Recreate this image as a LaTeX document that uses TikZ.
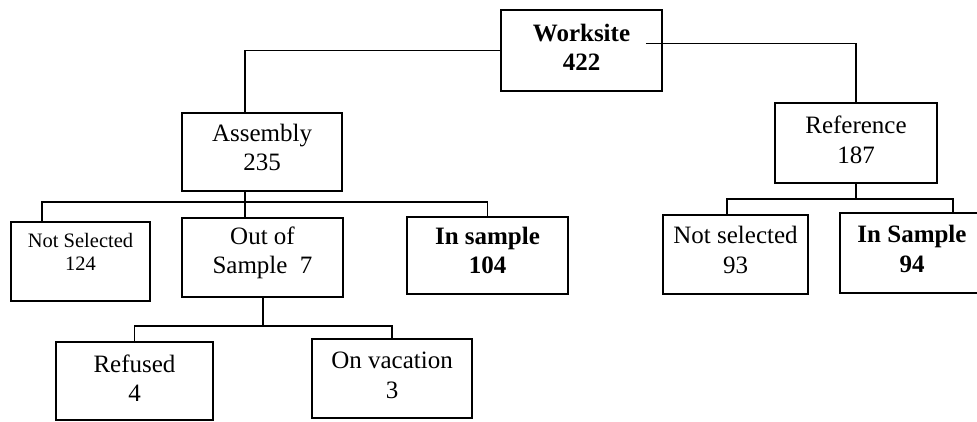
\documentclass[tikz,border=0pt]{standalone}
\usepackage{fontspec}
\setmainfont{Liberation Serif}
\begin{document}
\begin{tikzpicture}[x=1pt,y=-1pt,
  box/.style={draw=black,line width=1.5pt,fill=white,minimum width=#1,inner sep=0pt},
  lbl/.style={align=center,inner sep=0pt,font=\fontsize{25}{29.5}\selectfont},
  small/.style={align=center,inner sep=0pt,font=\fontsize{20.5}{23}\selectfont},
  conn/.style={draw=black,line width=1.5pt}]
\useasboundingbox (0,0) rectangle (977,422);
\clip (0,0) rectangle (977,422);
% connectors first
\coordinate (b1) at (245,202);
\coordinate (b2) at (263,326);
\coordinate (b3) at (856,199);
% boxes
\node[box=161pt,minimum height=81pt] (ws) at (581.5,50.5) {};
\node[box=160pt,minimum height=78pt] (asm) at (262,152) {};
\node[box=162pt,minimum height=80pt] (ref) at (856,143) {};
\node[box=139pt,minimum height=79pt] (ns) at (80.5,261.5) {};
\node[box=161pt,minimum height=79pt] (oos) at (262.5,257.5) {};
\node[box=161pt,minimum height=77pt] (ins) at (487.5,255.5) {};
\node[box=145pt,minimum height=79pt] (ns2) at (735.5,254.5) {};
\node[box=144pt,minimum height=80pt] (ins2) at (912,253) {};
\node[box=157pt,minimum height=78pt] (refu) at (134.5,381) {};
\node[box=160pt,minimum height=79pt] (vac) at (392,378.5) {};
% connectors
\draw[conn] (ws.west) -| ([xshift=-17pt]asm.north);
\draw[conn] ([xshift=-17pt,yshift=7pt]ws.east) -| (ref.north);
\draw[conn] ([xshift=-17pt]asm.south) -- ([xshift=-17.5pt]oos.north);
\draw[conn] ([xshift=-38.5pt]ns.north) |- (b1) -| (ins.north);
\draw[conn] (oos.south -| b2) -- (b2);
\draw[conn] (refu.north) |- (b2) -| (vac.north);
\draw[conn] (ref.south) -- (b3);
\draw[conn] ([xshift=-8.5pt]ns2.north) |- (b3) -| ([xshift=41pt]ins2.north);
% labels
\node[lbl] (ws-t) at ([yshift=3pt]ws.center) {\textbf{Worksite}\\\textbf{422}};
\node[lbl] (asm-t) at ([yshift=4.5pt]asm.center) {Assembly\\235};
\node[lbl] (ref-t) at ([yshift=3pt]ref.center) {Reference\\187};
\node[small] (ns-t) at ([yshift=10pt]ns.center) {Not Selected\\124};
\node[lbl] (oos-t) at ([yshift=4.5pt]oos.center) {Out of\\Sample~~7};
\node[lbl] (ins-t) at ([yshift=5pt]ins.center) {\textbf{In sample}\\\textbf{104}};
\node[lbl] (ns2-t) at ([yshift=4.5pt]ns2.center) {Not selected\\93};
\node[lbl] (ins2-t) at ([yshift=4pt]ins2.center) {\textbf{In Sample}\\\textbf{94}};
\node[lbl] (refu-t) at ([yshift=3pt]refu.center) {Refused\\4};
\node[lbl] (vac-t) at ([yshift=3pt]vac.center) {On vacation\\3};
\end{tikzpicture}
\end{document}
